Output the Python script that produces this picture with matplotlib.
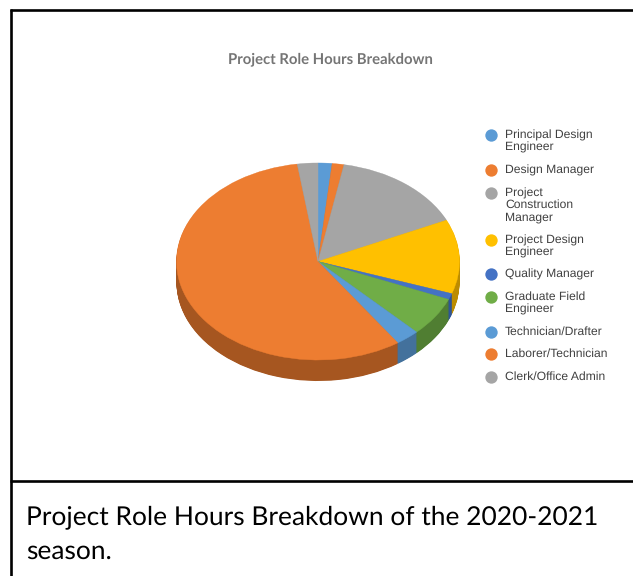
import matplotlib
matplotlib.use("Agg")
import matplotlib.pyplot as plt
from matplotlib.lines import Line2D

plt.rcParams["text.hinting"] = "none"

W, H = 633, 576

title = "Project Role Hours Breakdown"
caption_lines = ["Project Role Hours Breakdown of the 2020-2021", "season."]
roles = ["Principal Design\nEngineer", "Design Manager", "Project\nConstruction\nManager",
         "Project Design\nEngineer", "Quality Manager", "Graduate Field\nEngineer",
         "Technician/Drafter", "Laborer/Technician", "Clerk/Office Admin"]
shares = [1.6, 1.35, 15.2, 12.2, 1.0, 6.45, 2.75, 57.3, 2.35]
top_colors = ["#5B9BD5", "#ED7D31", "#A5A5A5", "#FFC000", "#4472C4", "#70AD47",
              "#5B9BD5", "#ED7D31", "#A5A5A5"]
side_colors = ["#43719C", "#A65620", "#7B7B7B", "#BC8C00", "#2F5597", "#507E32",
               "#43719C", "#A65620", "#7B7B7B"]

CX, CY, RX, RY, DEPTH = 318, 261.5, 141.5, 98.5, 21

fig = plt.figure(figsize=(W / 100, H / 100), dpi=100, facecolor="white")
bg = fig.add_axes([0, 0, 1, 1])
bg.set_xlim(0, W)
bg.set_ylim(H, 0)
bg.axis("off")

# pie axes: squashed ellipse with room below for the side wall
pie_ax = fig.add_axes([(CX - RX) / W, (H - CY - RY - DEPTH) / H, 2 * RX / W, (2 * RY + DEPTH) / H])
steps = DEPTH * 2
for i in range(steps, 0, -1):
    pie_ax.pie(shares, colors=side_colors, startangle=90, counterclock=False, radius=1,
               center=(0, -(i / 2) / RY), wedgeprops=dict(linewidth=0))
pie_ax.pie(shares, colors=top_colors, startangle=90, counterclock=False, radius=1,
           center=(0, 0), wedgeprops=dict(linewidth=0.3))
for w, c in zip(pie_ax.patches[-len(shares):], top_colors):
    w.set_edgecolor(c)
pie_ax.set_aspect("auto")
pie_ax.set_xlim(-1, 1)
pie_ax.set_ylim(-1 - DEPTH / RY, 1)
for p in pie_ax.patches:
    p.set_clip_on(False)

# frame
for xs, ys in [((10, W), (9.8, 9.8)), ((10, W), (481.3, 481.3)), ((11.3, 11.3), (8.5, H))]:
    bg.plot(xs, ys, color="black", lw=1.9, solid_capstyle="butt")

bg.text(330.5, 59, title, ha="center", va="center", fontsize=10.7, fontweight="bold",
        color="#757575", family="Lato")

legend_y = [135, 170, 193, 240, 274, 297, 332, 354, 377]
for name, c, y in zip(roles, top_colors, legend_y):
    bg.add_line(Line2D([490.5], [y], marker="o", ms=8.9, color=c, mew=0, ls=""))
    for k, line in enumerate(name.split("\n")):
        bg.text(505, y + 12.2 * k, line, ha="left", va="center", fontsize=8.7, color="#404040",
                family="Liberation Sans")

for line, y in zip(caption_lines, [517, 551]):
    bg.text(26, y, line, ha="left", va="center", fontsize=19, color="#000000", family="Lato")

fig.savefig("out.png", dpi=100)
